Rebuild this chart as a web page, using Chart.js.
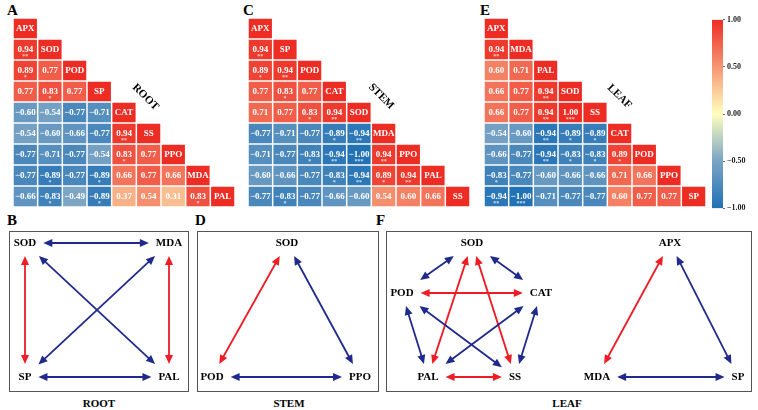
<!DOCTYPE html>
<html>
<head>
<meta charset="utf-8">
<script src="https://cdn.jsdelivr.net/npm/chart.js@4.4.0/dist/chart.umd.min.js"></script>
<style>
  body { margin: 0; background: #fff; width: 758px; height: 410px; position: relative; overflow: hidden;
         font-family: 'Liberation Serif', 'Times New Roman', serif; }
  .pane { position: absolute; }
  .letter { position: absolute; font-weight: bold; font-size: 15px; line-height: 1; color: #000; }
  .cap { position: absolute; font-weight: bold; font-size: 11px; line-height: 1; transform: translate(-50%, -50%); }
</style>
</head>
<body>

<div class="letter" style="left:7px;top:3px">A</div>
<div class="letter" style="left:243px;top:3px">C</div>
<div class="letter" style="left:480px;top:3px">E</div>
<div class="letter" style="left:7px;top:213px">B</div>
<div class="letter" style="left:195px;top:213px">D</div>
<div class="letter" style="left:376px;top:213px">F</div>

<div class="pane" style="left:12.5px;top:17.5px;width:222px;height:189px"><canvas id="heatRoot"></canvas></div>
<div class="pane" style="left:247.5px;top:17.5px;width:222px;height:189px"><canvas id="heatStem"></canvas></div>
<div class="pane" style="left:484.3px;top:17.5px;width:222px;height:189px"><canvas id="heatLeaf"></canvas></div>
<div class="pane" style="left:712px;top:13px;width:46px;height:202px"><canvas id="colorBar"></canvas></div>

<div class="pane" style="left:9px;top:231px;width:180px;height:161px"><canvas id="netRoot"></canvas></div>
<div class="pane" style="left:197px;top:231px;width:182px;height:161px"><canvas id="netStem"></canvas></div>
<div class="pane" style="left:386px;top:231px;width:366px;height:161px"><canvas id="netLeaf"></canvas></div>

<div class="cap" style="left:99px;top:403px">ROOT</div>
<div class="cap" style="left:289px;top:403px">STEM</div>
<div class="cap" style="left:567px;top:403px">LEAF</div>

<script>
// ---- data: lower triangles of the correlation matrices ----
const rootVars = ['APX', 'SOD', 'POD', 'SP', 'CAT', 'SS', 'PPO', 'MDA', 'PAL'];
const rootR = [
  [],
  [0.94],
  [0.89, 0.77],
  [0.77, 0.83, 0.77],
  [-0.60, -0.54, -0.77, -0.71],
  [-0.54, -0.60, -0.66, -0.77, 0.94],
  [-0.77, -0.71, -0.77, -0.54, 0.83, 0.77],
  [-0.77, -0.89, -0.77, -0.89, 0.66, 0.77, 0.66],
  [-0.66, -0.83, -0.49, -0.89, 0.37, 0.54, 0.31, 0.83]
];
const rootStars = [
  [],
  ['**'],
  ['*', ''],
  ['', '*', ''],
  ['', '', '', ''],
  ['', '', '', '', '**'],
  ['', '', '', '', '*', ''],
  ['', '*', '', '*', '', '', ''],
  ['', '*', '', '*', '', '', '', '*']
];

const stemVars = ['APX', 'SP', 'POD', 'CAT', 'SOD', 'MDA', 'PPO', 'PAL', 'SS'];
const stemR = [
  [],
  [0.94],
  [0.89, 0.94],
  [0.77, 0.83, 0.77],
  [0.71, 0.77, 0.83, 0.94],
  [-0.77, -0.71, -0.77, -0.89, -0.94],
  [-0.71, -0.77, -0.83, -0.94, -1.00, 0.94],
  [-0.60, -0.66, -0.77, -0.83, -0.94, 0.89, 0.94],
  [-0.77, -0.83, -0.77, -0.66, -0.60, 0.54, 0.60, 0.66]
];
const stemStars = [
  [],
  ['**'],
  ['*', '**'],
  ['', '*', ''],
  ['', '', '*', '**'],
  ['', '', '', '*', '**'],
  ['', '', '*', '**', '***', '**'],
  ['', '', '', '*', '**', '*', '**'],
  ['', '*', '', '', '', '', '', '']
];

const leafVars = ['APX', 'MDA', 'PAL', 'SOD', 'SS', 'CAT', 'POD', 'PPO', 'SP'];
const leafR = [
  [],
  [0.94],
  [0.60, 0.71],
  [0.66, 0.77, 0.94],
  [0.66, 0.77, 0.94, 1.00],
  [-0.54, -0.60, -0.94, -0.89, -0.89],
  [-0.66, -0.77, -0.94, -0.83, -0.83, 0.89],
  [-0.83, -0.77, -0.60, -0.66, -0.66, 0.71, 0.66],
  [-0.94, -1.00, -0.71, -0.77, -0.77, 0.60, 0.77, 0.77]
];
const leafStars = [
  [],
  ['**'],
  ['', ''],
  ['', '', '**'],
  ['', '', '**', '***'],
  ['', '', '**', '*', '*'],
  ['', '', '**', '*', '*', '*'],
  ['*', '', '', '', '', '', ''],
  ['**', '***', '', '', '', '', '', '']
];

const barTicks = [-1, -0.5, 0, 0.5, 1];

// network edges (significant correlations)
const rootNodes = ['SOD', 'MDA', 'SP', 'PAL'];
const rootEdges = [['SOD', 'MDA'], ['SP', 'PAL'], ['SOD', 'SP'], ['MDA', 'PAL'], ['SOD', 'PAL'], ['MDA', 'SP']];
const stemNodes = ['SOD', 'POD', 'PPO'];
const stemEdges = [['SOD', 'POD'], ['SOD', 'PPO'], ['POD', 'PPO']];
const leafNodes = ['SOD', 'POD', 'CAT', 'PAL', 'SS', 'APX', 'MDA', 'SP'];
const leafEdges = [
  ['SOD', 'POD'], ['SOD', 'CAT'], ['POD', 'CAT'], ['SOD', 'PAL'], ['SOD', 'SS'],
  ['POD', 'PAL'], ['CAT', 'SS'], ['POD', 'SS'], ['CAT', 'PAL'], ['PAL', 'SS'],
  ['APX', 'MDA'], ['APX', 'SP'], ['MDA', 'SP']
];

// layout of the network nodes (page pixels)
const rootPos = { SOD: [25, 243], MDA: [169, 243], SP: [25, 377], PAL: [169, 377] };
const stemPos = { SOD: [287, 243], POD: [212, 377], PPO: [360, 377] };
const leafPos = {
  SOD: [472, 243], POD: [402, 293], CAT: [541, 293], PAL: [428, 377], SS: [515, 377],
  APX: [670, 243], MDA: [597, 377], SP: [738, 377]
};

const FONT = "'Liberation Serif', 'Times New Roman', serif";
const RED = '#ee1c24';
const BLUE = '#1f2a8c';

const colorStops = [
  [-1, [33, 113, 181]],
  [-0.5, [122, 164, 196]],
  [0, [255, 255, 191]],
  [0.5, [246, 150, 115]],
  [1, [237, 44, 36]]
];

function cellColor(v) {
  for (let k = 1; k < colorStops.length; k++) {
    const [v1, c1] = colorStops[k];
    const [v0, c0] = colorStops[k - 1];
    if (v <= v1) {
      const t = (v - v0) / (v1 - v0);
      const c = c0.map((a, i) => Math.round(a + (c1[i] - a) * t));
      return `rgb(${c[0]},${c[1]},${c[2]})`;
    }
  }
  const c = colorStops[colorStops.length - 1][1];
  return `rgb(${c[0]},${c[1]},${c[2]})`;
}

function fmt(v) {
  return (v < 0 ? '\u2212' : '') + Math.abs(v).toFixed(2);
}

const baseOpts = {
  responsive: true,
  maintainAspectRatio: false,
  animation: false,
  events: [],
  layout: { padding: 0 },
  plugins: { legend: { display: false }, tooltip: { enabled: false } }
};

function heatmap(id, vars, vals, stars, title, titleAt) {
  const pts = [];
  vars.forEach((name, i) => {
    for (let j = 0; j < i; j++) pts.push({ x: j, y: i, r: vals[i][j], s: stars[i][j] });
    pts.push({ x: i, y: i, r: 1, name: name });
  });

  new Chart(document.getElementById(id), {
    type: 'scatter',
    data: { datasets: [{ data: pts, pointRadius: 0 }] },
    options: {
      ...baseOpts,
      scales: {
        x: { type: 'linear', min: -0.5, max: 8.5, display: false },
        y: { type: 'linear', min: -0.5, max: 8.5, reverse: true, display: false }
      }
    },
    plugins: [{
      id: 'cells',
      afterDatasetsDraw(chart) {
        const { ctx, scales: { x, y } } = chart;
        ctx.save();
        ctx.textAlign = 'center';
        ctx.textBaseline = 'middle';
        pts.forEach(p => {
          const l = x.getPixelForValue(p.x - 0.5), r = x.getPixelForValue(p.x + 0.5);
          const t = y.getPixelForValue(p.y - 0.5), b = y.getPixelForValue(p.y + 0.5);
          ctx.fillStyle = cellColor(p.r);
          ctx.fillRect(l + 0.75, t + 0.75, r - l - 1.5, b - t - 1.5);
          const cx = (l + r) / 2, cy = (t + b) / 2;
          ctx.fillStyle = '#fff';
          ctx.font = 'bold 9px ' + FONT;
          if (p.name) {
            ctx.fillText(p.name, cx, cy + 0.5);
          } else {
            ctx.fillText(fmt(p.r), cx, cy);
            if (p.s) {
              ctx.font = 'bold 6px ' + FONT;
              ctx.fillStyle = 'rgba(255,255,255,0.75)';
              ctx.fillText(p.s, cx, cy + 7);
            }
          }
        });
        // rotated tissue label in the empty triangle
        ctx.translate(x.getPixelForValue(titleAt[0]), y.getPixelForValue(titleAt[1]));
        ctx.rotate(Math.PI / 4);
        ctx.fillStyle = '#000';
        ctx.font = 'bold 11px ' + FONT;
        ctx.fillText(title, 0, 0);
        ctx.restore();
      }
    }]
  });
}

heatmap('heatRoot', rootVars, rootR, rootStars, 'ROOT', [4.87, 3.27]);
heatmap('heatStem', stemVars, stemR, stemStars, 'STEM', [4.90, 3.24]);
heatmap('heatLeaf', leafVars, leafR, leafStars, 'LEAF', [4.99, 3.24]);

// colour key
new Chart(document.getElementById('colorBar'), {
  type: 'bar',
  data: {
    labels: [''],
    datasets: [{
      data: [[-1, 1]],
      categoryPercentage: 1,
      barPercentage: 1,
      borderSkipped: false,
      backgroundColor(c) {
        const { ctx, chartArea } = c.chart;
        if (!chartArea) return null;
        const g = ctx.createLinearGradient(0, chartArea.bottom, 0, chartArea.top);
        colorStops.forEach(([v]) => g.addColorStop((v + 1) / 2, cellColor(v)));
        return g;
      }
    }]
  },
  options: {
    ...baseOpts,
    layout: { padding: { top: 6, bottom: 6 } },
    scales: {
      x: { display: false },
      y: {
        position: 'right',
        min: -1, max: 1,
        afterBuildTicks(s) { s.ticks = barTicks.map(v => ({ value: v })); },
        afterFit(s) { s.width = 35; },
        border: { display: false },
        grid: { drawOnChartArea: false, drawTicks: true, tickLength: 2, color: '#666' },
        ticks: {
          padding: 2,
          color: '#222',
          font: { family: FONT, size: 8, weight: 'bold' },
          callback: v => fmt(v)
        }
      }
    }
  }
});

function network(id, vars, vals, nodes, pos, edges, box) {
  const corr = (a, b) => {
    const i = vars.indexOf(a), j = vars.indexOf(b);
    return i > j ? vals[i][j] : vals[j][i];
  };

  new Chart(document.getElementById(id), {
    type: 'scatter',
    data: { datasets: [{ data: nodes.map(n => ({ x: pos[n][0], y: pos[n][1] })), pointRadius: 0 }] },
    options: {
      ...baseOpts,
      scales: {
        x: { type: 'linear', min: box[0], max: box[2], display: false },
        y: { type: 'linear', min: box[1], max: box[3], reverse: true, display: false }
      }
    },
    plugins: [{
      id: 'net',
      afterDatasetsDraw(chart) {
        const { ctx, chartArea: ca, scales: { x, y } } = chart;
        ctx.save();
        ctx.font = 'bold 11px ' + FONT;
        const P = n => [x.getPixelForValue(pos[n][0]), y.getPixelForValue(pos[n][1])];
        const half = n => [ctx.measureText(n).width / 2 + 7, 13];

        edges.forEach(([a, b]) => {
          const [ax, ay] = P(a), [bx, by] = P(b);
          const len = Math.hypot(bx - ax, by - ay);
          const ux = (bx - ax) / len, uy = (by - ay) / len;
          const cut = n => {
            const [hw, hh] = half(n);
            return Math.min(Math.abs(ux) > 1e-6 ? hw / Math.abs(ux) : 1e9,
                            Math.abs(uy) > 1e-6 ? hh / Math.abs(uy) : 1e9);
          };
          const ta = cut(a), tb = cut(b);
          const sx = ax + ux * ta, sy = ay + uy * ta;
          const ex = bx - ux * tb, ey = by - uy * tb;
          const col = corr(a, b) > 0 ? RED : BLUE;
          const AL = 9, AW = 4;

          ctx.strokeStyle = col;
          ctx.fillStyle = col;
          ctx.lineWidth = 1.8;
          ctx.beginPath();
          ctx.moveTo(sx + ux * (AL - 1), sy + uy * (AL - 1));
          ctx.lineTo(ex - ux * (AL - 1), ey - uy * (AL - 1));
          ctx.stroke();

          const head = (tx, ty, dx, dy) => {
            ctx.beginPath();
            ctx.moveTo(tx, ty);
            ctx.lineTo(tx - dx * AL - dy * AW, ty - dy * AL + dx * AW);
            ctx.lineTo(tx - dx * AL + dy * AW, ty - dy * AL - dx * AW);
            ctx.closePath();
            ctx.fill();
          };
          head(ex, ey, ux, uy);
          head(sx, sy, -ux, -uy);
        });

        ctx.fillStyle = '#000';
        ctx.textAlign = 'center';
        ctx.textBaseline = 'middle';
        nodes.forEach(n => {
          const [px, py] = P(n);
          ctx.fillText(n, px, py);
        });

        ctx.strokeStyle = '#555';
        ctx.lineWidth = 1;
        ctx.strokeRect(ca.left + 0.5, ca.top + 0.5, ca.width - 1, ca.height - 1);
        ctx.restore();
      }
    }]
  });
}

network('netRoot', rootVars, rootR, rootNodes, rootPos, rootEdges, [9, 231, 189, 392]);
network('netStem', stemVars, stemR, stemNodes, stemPos, stemEdges, [197, 231, 379, 392]);
network('netLeaf', leafVars, leafR, leafNodes, leafPos, leafEdges, [386, 231, 752, 392]);
</script>
</body>
</html>
